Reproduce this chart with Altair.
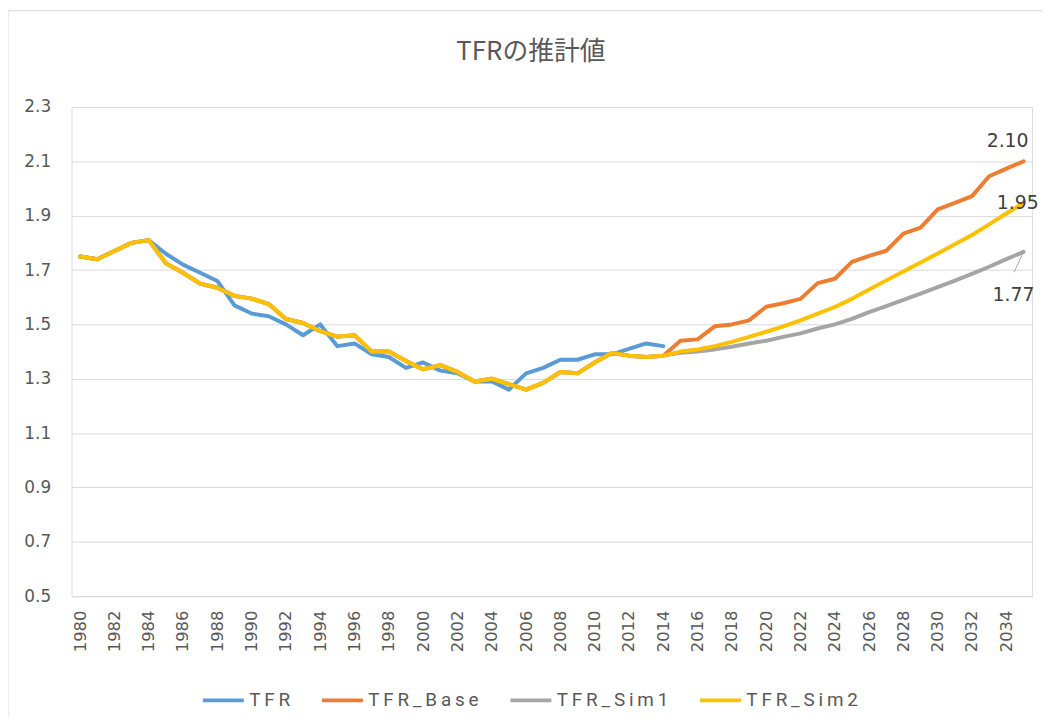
import altair as alt
import pandas as pd

years = list(range(1980, 2036))

# Observed TFR, 1980-2014
tfr = [1.75, 1.74, 1.77, 1.80, 1.81, 1.76, 1.72, 1.69, 1.66, 1.57,
       1.54, 1.53, 1.50, 1.46, 1.50, 1.42, 1.43, 1.39, 1.38, 1.34,
       1.36, 1.33, 1.32, 1.29, 1.29, 1.26, 1.32, 1.34, 1.37, 1.37,
       1.39, 1.39, 1.41, 1.43, 1.42]

# Fitted values shared by the three model series, 1980-2014
fitted = [1.75, 1.74, 1.77, 1.80, 1.81, 1.725, 1.69, 1.65, 1.635, 1.605,
          1.595, 1.575, 1.52, 1.505, 1.475, 1.455, 1.46, 1.40, 1.40, 1.365,
          1.335, 1.35, 1.325, 1.29, 1.30, 1.28, 1.26, 1.285, 1.325, 1.32,
          1.36, 1.395, 1.385, 1.38, 1.385]

# Projections, 2015-2035
base_proj = [1.44, 1.445, 1.493, 1.50, 1.515, 1.565, 1.578, 1.594, 1.652, 1.668,
             1.73, 1.752, 1.771, 1.834, 1.856, 1.923, 1.947, 1.972, 2.045, 2.073,
             2.10]
sim1_proj = [1.396, 1.40, 1.408, 1.418, 1.43, 1.44, 1.454, 1.467, 1.485, 1.50,
             1.52, 1.545, 1.567, 1.59, 1.613, 1.637, 1.661, 1.686, 1.712, 1.74,
             1.767]
sim2_proj = [1.40, 1.408, 1.42, 1.436, 1.454, 1.473, 1.493, 1.515, 1.54, 1.564,
             1.594, 1.628, 1.662, 1.695, 1.728, 1.761, 1.795, 1.829, 1.868, 1.908,
             1.947]

series_names = ["TFR", "TFR_Base", "TFR_Sim1", "TFR_Sim2"]
series_colors = ["#5B9BD5", "#ED7D31", "#A5A5A5", "#FFC000"]

y_ticks = [0.5, 0.7, 0.9, 1.1, 1.3, 1.5, 1.7, 1.9, 2.1, 2.3]
x_ticks = list(range(1980, 2035, 2))

rows = []
for yr, v in zip(years, tfr):
    rows.append({"year": yr, "series": "TFR", "value": v})
for name, proj in [("TFR_Base", base_proj), ("TFR_Sim1", sim1_proj), ("TFR_Sim2", sim2_proj)]:
    for yr, v in zip(years, fitted + proj):
        rows.append({"year": yr, "series": name, "value": v})
df = pd.DataFrame(rows)

last = df[df["year"] == 2035].copy()
last["label"] = last["value"].map(lambda v: f"{v:.2f}")

FONT_NUM = "DejaVu Sans"
GREY_TXT = "#595959"

x_enc = alt.X(
    "year:Q",
    scale=alt.Scale(domain=[1979.5, 2035.5], nice=False, zero=False),
    axis=alt.Axis(values=x_ticks, format="d", labelAngle=-90, ticks=False,
                  grid=False, domain=False, labelPadding=14, labelFont=FONT_NUM,
                  labelFontSize=16.5, labelColor=GREY_TXT, title=None,
                  labelOverlap=False, labelFlush=False),
)
y_enc = alt.Y(
    "value:Q",
    scale=alt.Scale(domain=[0.5, 2.3], nice=False, zero=False),
    axis=alt.Axis(values=y_ticks, format=".1f", ticks=False, domain=False,
                  gridColor="#D9D9D9", gridWidth=1, labelPadding=21,
                  labelFont=FONT_NUM, labelFontSize=17, labelColor=GREY_TXT,
                  title=None),
)
color_enc = alt.Color(
    "series:N",
    scale=alt.Scale(domain=series_names, range=series_colors),
    legend=alt.Legend(
        title=None, orient="none", legendX=130, legendY=575,
        direction="horizontal", symbolType="stroke", symbolStrokeWidth=4,
        symbolSize=1700, labelFont="Roboto", labelFontSize=19,
        labelColor=GREY_TXT, labelOffset=3, columnPadding=23,
        labelExpr="join(split(datum.label, ''), '\u2009')",
    ),
)

base = alt.Chart(df)
lines = [
    base.transform_filter(alt.datum.series == s)
    .mark_line(strokeWidth=4, strokeJoin="round", strokeCap="round")
    .encode(x=x_enc, y=y_enc, color=color_enc)
    for s in series_names
]

lab = alt.Chart(last)
txt_style = dict(font=FONT_NUM, fontSize=19, color="#404040", baseline="middle")
lab_base = lab.transform_filter(alt.datum.series == "TFR_Base").mark_text(
    align="center", dx=-16, dy=-20, **txt_style
).encode(x=x_enc, y=y_enc, text="label:N")
lab_sim2 = lab.transform_filter(alt.datum.series == "TFR_Sim2").mark_text(
    align="left", dx=-27, dy=0, **txt_style
).encode(x=x_enc, y=y_enc, text="label:N")
lab_sim1 = lab.transform_filter(alt.datum.series == "TFR_Sim1").mark_text(
    align="center", dx=-10, dy=44, **txt_style
).encode(x=x_enc, y=y_enc, text="label:N")
leader = lab.transform_filter(alt.datum.series == "TFR_Sim1").transform_calculate(
    x2="datum.year - 0.55", y2="datum.value - 0.075"
).mark_rule(color="#A5A5A5", strokeWidth=1).encode(
    x=x_enc, y=y_enc, x2="x2:Q", y2="y2:Q"
)

frame = alt.Chart(alt.Data(values=[{}])).mark_rect(
    fill="transparent", stroke="#D9D9D9", strokeWidth=1
).encode(
    x=alt.value(-64), x2=alt.value(1100), y=alt.value(-97), y2=alt.value(700)
)

chart = alt.layer(*lines, leader, lab_base, lab_sim2, lab_sim1, frame).properties(
    width=968, height=493,
    autosize=alt.AutoSizeParams(type="none"),
    padding={"left": 64, "top": 97, "right": 10, "bottom": 119},
    title=alt.TitleParams(
        "TFRの推計値", font="Noto Sans CJK JP", fontSize=26, fontWeight="normal",
        color=GREY_TXT, anchor="middle", dx=-21, offset=-55,
    ),
).configure_view(strokeWidth=0).configure(background="white")

chart.save("out.html", embed_options={"renderer": "svg", "actions": False})
